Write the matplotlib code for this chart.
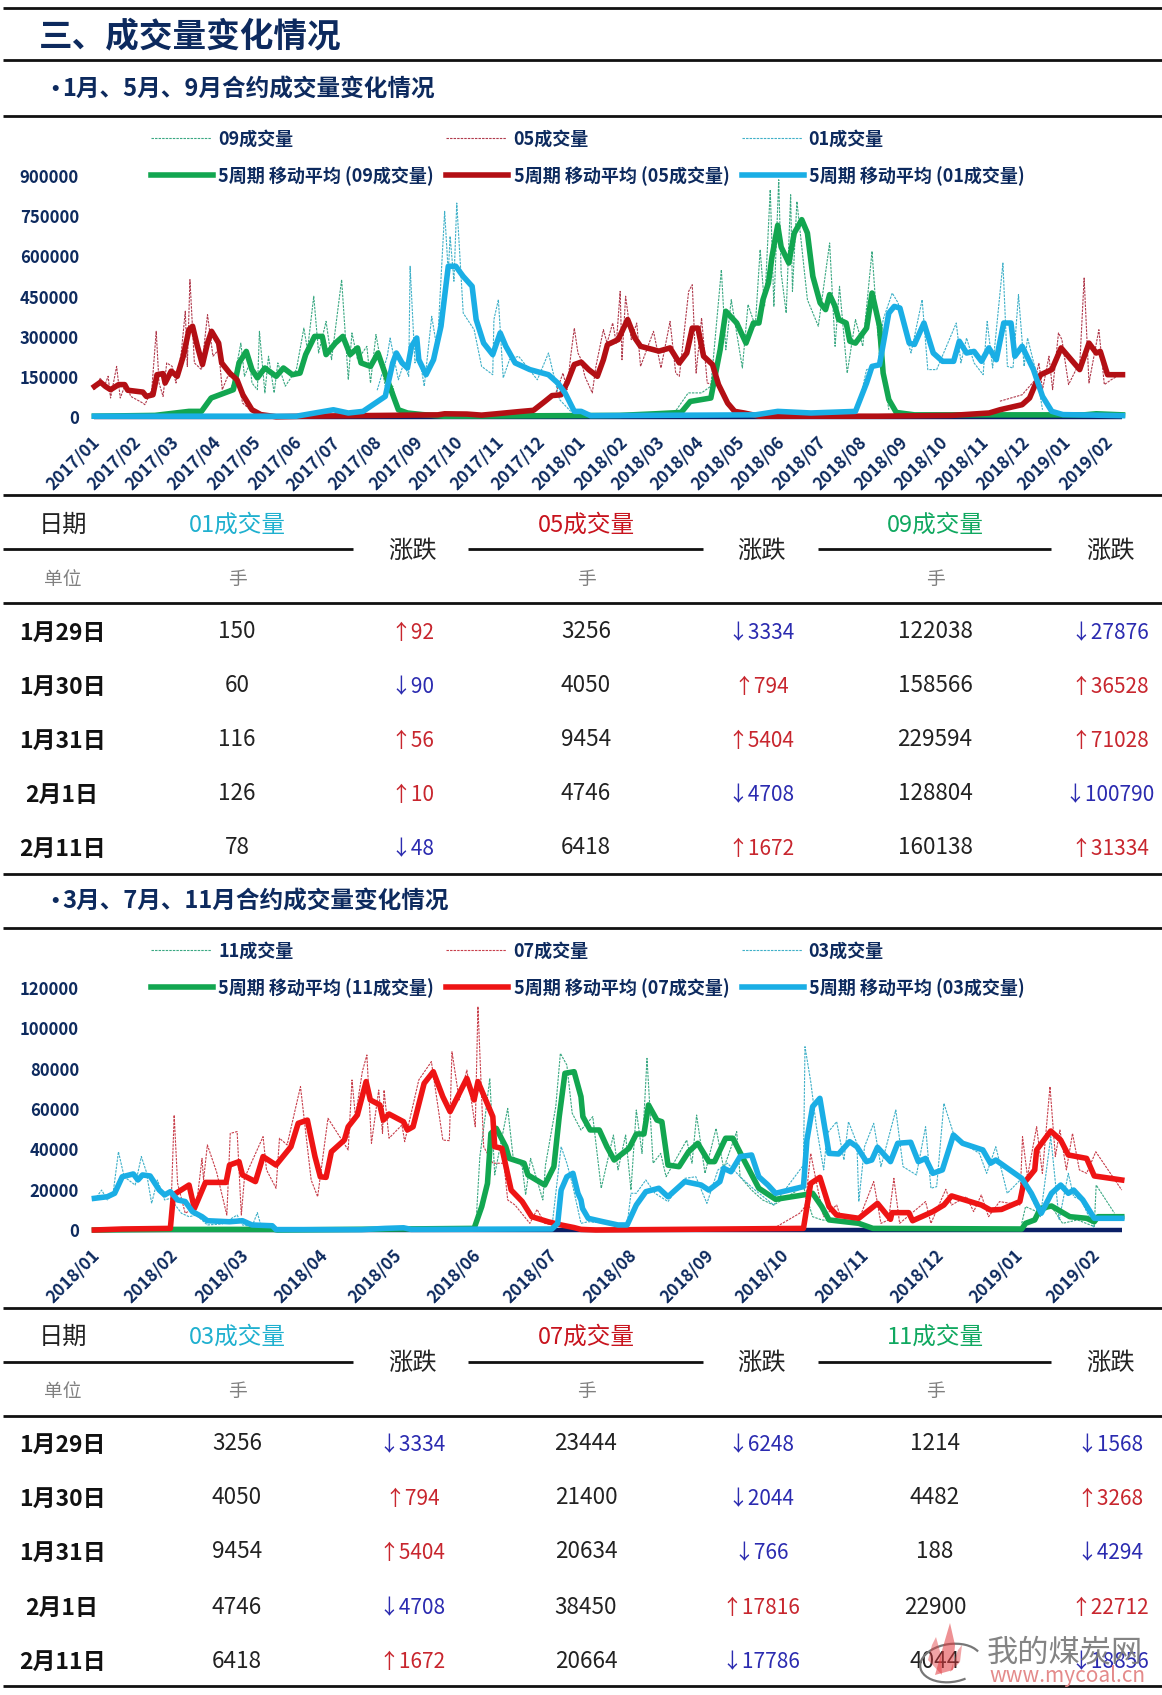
import numpy as np
import matplotlib
matplotlib.use("Agg")
import matplotlib.pyplot as plt
from matplotlib.patches import Arc, Polygon
from matplotlib.transforms import ScaledTranslation

plt.rcParams['font.family'] = ['Noto Sans CJK SC', 'DejaVu Sans']
W, H = 1162, 1695

# ---------- data: (trading-day index, volume) ----------
months_a = ['2017/%02d' % m for m in range(1, 13)] + ['2018/%02d' % m for m in range(1, 13)] + ['2019/01', '2019/02']
ticks_a = [0, 20.2, 39, 59.6, 79.4, 100, 118.7, 139.4, 159.6, 179.8, 200, 220.2, 240.4, 261, 279.4, 298.7, 319, 339, 359.3, 379.4, 399.6, 419.8, 440, 460.2, 480.4, 501.5]
months_b = ['2018/%02d' % m for m in range(1, 13)] + ['2019/01', '2019/02']
ticks_b = [0, 20.4, 39, 59.7, 79, 99.7, 119.7, 140.6, 160.8, 180.4, 201.3, 221, 241.7, 262]
yticks_a = [0, 150000, 300000, 450000, 600000, 750000, 900000]
yticks_b = [0, 20000, 40000, 60000, 80000, 100000, 120000]

# chart A, thousands of lots
ma05 = [(0,114),(3,130),(5.5,114),(8,102),(12,121),(15,121),(16.5,100),(24,93),(25.7,77),(29,83),(31,158),(34,162),(35,127),(38,171),(41,152),(44,227),(46.8,326),(48.6,339),(51,264),(53.5,196),(56,276),(58,320),(61.5,276),(63,202),(67,164),(70.6,139),(73.5,83),(78,27),(82.4,9),(90,1),(104,3),(170,8),(173.4,12),(184.4,11),(191.7,7),(199,12),(210,20),(217.4,25),(223,58),(226.6,80),(231,83),(234,127),(237.6,196),(241,205),(244.7,177),(249,152),(252,214),(254,270),(259.3,289),(264,364),(267.6,295),(270.4,264),(279.5,246),(285,258),(289.6,202),(293.3,239),(296,332),(298.8,332),(301.6,227),(306,196),(309,121),(313.5,52),(317,21),(321.7,15),(329,3),(388,3),(424.5,6),(443,15),(448.3,27),(459.3,46),(463,71),(465.8,121),(468.5,158),(474,177),(478.6,258),(487.8,177),(492.4,276),(496,239),(498,245),(501.6,158),(509,158)]
raw05 = [(0,102),(3,146),(4.6,108),(6.8,152),(8,71),(11,189),(12.8,71),(15.6,127),(18,77),(24,52),(25,46),(28.4,102),(30.6,320),(32,127),(34,77),(35.8,202),(38.5,189),(40.4,127),(43,239),(45,395),(46,189),(47.3,513),(49.5,202),(53,177),(56,382),(58.7,227),(61.5,251),(63.3,102),(66,152),(70.6,152),(73.4,52),(78,21),(82.5,9)]
raw05b = [(228,80),(232,164),(234,102),(235.8,227),(237.6,332),(239.4,239),(241,214),(242.8,152),(246.5,90),(248.3,189),(252,326),(253.8,276),(256.6,351),(258.4,276),(260.3,469),(261.2,214),(263,451),(265.8,289),(268.5,351),(270.4,189),(276.8,320),(280.5,183),(285,357),(287.8,164),(289.6,152),(294.2,469),(296,494),(297.9,164),(300.6,370),(303.4,127),(308.9,115),(313.5,40),(321.7,15)]
raw05c = [(448.3,59),(459.3,83),(465.8,139),(467.6,202),(469.4,102),(472.6,227),(474.4,102),(477.3,314),(479,289),(482.3,121),(486,177),(487.8,189),(490,519),(492.4,127),(497.3,326),(500,121),(503.4,139),(509,164)]
ma09 = [(0,3),(30,6),(46.8,21),(53,21),(57.8,71),(68.8,102),(71.6,202),(75.2,245),(78,177),(80.7,146),(84.4,183),(90,152),(93.6,183),(98,158),(101.8,164),(104.6,233),(109,301),(112.8,301),(114.7,233),(119.3,276),(123,301),(126.6,233),(130.3,258),(132,202),(136.7,189),(140.4,239),(145,139),(150.5,27),(155,15),(162.4,9),(173,3),(260,6),(277.7,12),(290.5,17),(295,58),(305.2,71),(309.8,251),(312.6,395),(318,351),(322.6,276),(326.3,351),(329,351),(331,438),(333.7,500),(335.5,600),(338.3,716),(340,635),(343.8,575),(346.5,687),(350.2,737),(353,687),(355.7,525),(359.3,426),(362,401),(364,457),(366.7,413),(368.5,364),(372.2,351),(374,283),(376.8,276),(382.3,332),(385,463),(388.7,339),(390.5,164),(393.3,65),(397,17),(406,8),(490,8),(496,12),(509,8)]
raw09 = [(66,90),(68.8,127),(72.5,276),(74.3,152),(77,202),(78,127),(80.7,102),(81.7,320),(84.4,90),(86.2,227),(89,90),(90.8,202),(94.5,115),(100,177),(103.7,332),(105.5,251),(108.6,451),(111,239),(114.7,357),(117.4,214),(122.4,513),(125.7,139),(127.5,314),(130.3,214),(134.9,264),(136.7,127),(139.4,308),(144,115),(147.7,115),(150.5,30)]
raw09b = [(288,25),(294,90),(300.6,90),(305.2,115),(310.4,550),(312.6,251),(315.3,438),(320.8,183),(323.6,420),(327.2,339),(329.6,625),(331.8,413),(334.6,849),(336.4,413),(338.8,886),(340,538),(342.5,388),(344.7,830),(345.6,469),(347.8,805),(353,438),(358.4,339),(364,650),(366.7,264),(368.9,488),(372.7,164),(376.8,364),(380.4,264),(385,619),(387.8,314),(393.3,27)]
ma01 = [(0,3),(100,3),(118.3,27),(125.7,15),(133,21),(144,77),(147.7,202),(149.5,239),(152.3,202),(155,183),(157,264),(159.6,295),(160.6,214),(164.2,158),(167.9,214),(171.6,339),(175.2,563),(178.9,563),(182.6,525),(187,488),(189,364),(192.7,276),(197.2,233),(200.9,314),(203.7,264),(208.3,202),(215.6,177),(224.8,158),(229.4,127),(233,90),(237.6,21),(241,21),(245.6,5),(327.2,8),(338.3,21),(354.8,15),(376.8,21),(382.3,127),(385,189),(388.7,195),(393.3,388),(396,413),(398.8,407),(403.4,276),(406,271),(410.7,351),(415.3,239),(419.9,208),(425.4,208),(428.2,283),(431.8,239),(435.5,245),(439.2,208),(442.8,258),(446.5,214),(450.2,351),(453.8,351),(455.7,227),(459.3,264),(464.9,177),(469.4,77),(474,21),(479.5,9),(509,5)]
raw01 = [(140,100),(145,227),(146.4,295),(150.5,139),(153.2,202),(155.6,152),(156.3,563),(158.7,202),(160.6,239),(163.3,115),(167,376),(169.7,251),(173.4,768),(175.2,538),(176.1,675),(178,507),(179.4,799),(182.6,388),(188,326),(191.7,189),(197.2,158),(197.8,364),(200,438),(202.4,146),(205.5,214),(210,227),(219.3,139),(224.8,239),(230.3,65),(235.8,21)]
raw01b = [(378,30),(382.3,177),(387.8,189),(390.5,364),(395,463),(397.9,426),(400.6,339),(404.3,239),(409.8,438),(412.6,177),(417,177),(426.7,351),(429,202),(431.8,295),(435.5,202),(440,158),(442,357),(444.7,183),(449.8,575),(452,189),(454.8,183),(457.5,457),(460.3,189),(462,295),(466.7,152),(469.4,27)]

# chart B, lots
ma03 = [(0,15700),(3.4,16500),(5.3,18200),(7.3,26400),(10.2,27800),(11.4,24800),(12.6,27300),(14.6,26800),(17,19800),(18.4,17400),(19.9,19000),(21.8,14900),(23.8,14100),(25.7,9100),(28.2,6600),(29.6,4600),(35.4,4100),(38.8,4600),(41.3,2500),(46.6,2100),(47.6,200),(70,200),(76.2,800),(81,1100),(83,300),(119.9,500),(121.4,3300),(122.3,19800),(123.8,26400),(125.4,28100),(126.7,18200),(127.5,14900),(127.9,10700),(129.4,5800),(133.3,4100),(137.2,2500),(139.6,2500),(142,12400),(144.5,19000),(147.9,20700),(150.3,16500),(154.7,24000),(159,22300),(161,19800),(163.9,24000),(164.9,30600),(166.8,28900),(169.2,36400),(172.2,37200),(174.1,26400),(176.5,22300),(178.5,18200),(185.8,21500),(186.7,44600),(188.2,61200),(190.1,65300),(192.5,38000),(195,37700),(197.9,43800),(199.8,41300),(202.3,33900),(203.7,34700),(205.2,41000),(208.6,33900),(210.5,43000),(213.9,43500),(215.9,33900),(217.8,35500),(219.7,28100),(222.2,29800),(225.1,47100),(227.5,43000),(232.8,39700),(234.8,33100),(236.2,34700),(243,25600),(245.5,18200),(248.1,8300),(250.8,18200),(253.2,22300),(255.2,18200),(256.6,19800),(259,14900),(262,5800),(269.2,5800)]
raw03 = [(0,14900),(1.9,19800),(3.4,14900),(4.9,18200),(6.3,38800),(7.8,26400),(10.7,22300),(12.3,36400),(13.6,28900),(15,13200),(16.5,24800),(18.4,14900),(19.9,15700),(22.8,8300),(24.8,6600),(26.7,7400),(29.6,2500),(33.5,3000),(37.4,7400),(38.8,2500),(41.3,1700),(42.7,8600),(43.7,1700),(47,1700)]
raw03b = [(120,3300),(122.3,41300),(123.8,33100),(125.2,23100),(127.5,3300),(129.4,4100),(139.6,2500),(140.6,18200),(142,18200),(144.5,24800),(146.9,18200),(150.3,14100),(154.7,25600),(157.6,26400),(160.5,13200),(163.4,29800),(165.9,33100),(169.2,26400),(173.1,19800),(178,12400),(185.8,32200),(186.2,90900),(187.7,73600),(189.2,51200),(191.1,29800),(192,47900),(194.5,53700),(196.4,34700),(197.6,53700),(199.8,43000),(200.3,14100),(201.8,41300),(204.2,52900),(206.1,31400),(210,59500),(211.9,31400),(215.4,27300),(217.8,51200),(219.2,20700),(220.7,21500),(222.6,62800),(225.5,45500),(231.9,38000),(233.8,28100),(236.2,41300),(239.2,18200),(243,25600),(247.9,6600),(250.6,46300),(252.8,5000),(255.2,28100),(256.6,16500),(258.6,14900),(262,800)]
ma07 = [(0,0),(7.3,500),(19.9,800),(20.7,17400),(24.8,22300),(26.2,10700),(29.1,23600),(34.5,23600),(35.4,32200),(37.9,33900),(38.8,27300),(42.2,24000),(44.2,36400),(47.6,32200),(51.5,41300),(53.4,52900),(55.8,54500),(57.8,36400),(59.2,26400),(60.7,26100),(62.1,38800),(65.5,44600),(66.5,51200),(68.9,57000),(71.2,73600),(72.3,64500),(74.8,62000),(75.7,54500),(77.2,57500),(81,53700),(82,49600),(83.5,51200),(86.4,72700),(88.8,78500),(91.3,66100),(93.2,58700),(97.6,75200),(99.5,64500),(100.5,73600),(104.4,56200),(104.9,41300),(106.8,40500),(109.2,19800),(112.1,14100),(114.6,6600),(118.9,4100),(122.3,2500),(125.7,1200),(127.5,300),(131.4,0),(185.8,800),(187.7,23100),(190.1,26100),(192.5,11600),(194.5,7400),(200.3,5800),(205.2,13200),(208.6,5300),(209,8600),(213.4,8600),(214.4,4600),(219.7,9100),(222.6,12400),(224.6,16900),(232.4,12400),(234.8,9900),(237.7,10200),(242.5,14100),(243.5,23100),(246.4,29800),(246.9,39700),(250.6,49100),(253.2,44600),(255.2,37200),(260,35500),(262,26800),(269.2,24800)]
raw07 = [(19.9,800),(20.9,57000),(21.8,23100),(23.8,8300),(26.7,11600),(28.2,35500),(28.6,24800),(29.6,42200),(32,28900),(34.7,7400),(35.6,47900),(37.4,48800),(38.5,7400),(39.3,25600),(44.2,46300),(45.1,29800),(47.6,20700),(48.5,45500),(50.5,42200),(54,71100),(56.8,24800),(58.5,16500),(61.2,55400),(66.5,39700),(67.5,74400),(68.4,56200),(70.2,78500),(71.4,86800),(72.6,43000),(74.5,69400),(75.5,47900),(75.9,69400),(77.2,45500),(80.6,52100),(81.3,43800),(85,74400),(88.3,83500),(91.3,44600),(93,44300),(93.7,88400),(95.6,64500),(97.6,79300),(99.8,51200),(100.5,110800),(102,41300),(104.4,33100),(107.3,33100),(108.3,14900),(110.2,12400),(114.1,3300),(116,10200),(118,3300),(122.3,1700)]
raw07b = [(178,800),(184.8,8300),(186.2,11600),(187.7,38000),(189.6,19800),(191.1,6600),(194.5,12400),(195.5,6600),(200.3,5000),(204.2,24000),(206.1,3300),(208.1,5000),(209.5,25600),(211,3300),(217.8,14100),(219.2,3300),(223.1,20200),(224.6,12400),(228.5,16500),(230.4,9100),(232.4,17400),(234.3,6600),(237.2,14100),(242.5,12400),(243.2,46300),(244.5,26400),(246.9,51200),(248.4,28100),(250.4,71100),(251.8,36400),(253,49600),(254.7,29800),(256.3,47900),(258.1,29800),(260,28100),(262.4,38800),(269.2,19800)]
ma11 = [(0,0),(20,300),(47,300),(48,0),(99.5,800),(101.5,11600),(103,23100),(103.9,47900),(105.3,50400),(107.8,41300),(108.7,35500),(112.6,33100),(113.6,27300),(118,22300),(120.4,31400),(121.8,56200),(123.3,77700),(125.7,78500),(127.5,66100),(128,56200),(129.9,49600),(132.3,49600),(134.3,41300),(136.2,34700),(140.1,40500),(142,47600),(144,47600),(145.2,62000),(147.4,54500),(148.7,53700),(150.3,32200),(153.2,31400),(155.7,38800),(158.1,43000),(161,33900),(162.5,33900),(165.4,45500),(167.3,45500),(170.2,34700),(174.1,20700),(178.5,15200),(185.8,17400),(188.2,18200),(190.6,11600),(192.5,5000),(200.3,3300),(204,800),(243,500),(244,3300),(246.4,5000),(247.9,10700),(250.8,11900),(255.6,6600),(260,5800),(262,4100),(263,6600),(269.2,6600)]
raw11 = [(100,3300),(101,36400),(102.4,56200),(103.6,75200),(104.9,27300),(105.8,36400),(108.3,60300),(109.7,36400),(112.1,31400),(113,17400),(114.3,35500),(117.5,14900),(118.2,32200),(120.9,61200),(122.1,87600),(123.8,81800),(125.2,57900),(127.5,49600),(130.6,56200),(132.8,20700),(136,47100),(137.2,29800),(139.2,47100),(140.6,19800),(142,59500),(143.5,38000),(144.8,85100),(146.4,33100),(148.4,38000),(149.8,26400),(155.2,44600),(156.6,33100),(157.8,57000),(160,28100),(162.9,50400),(164.9,30600),(168.3,48800),(169.2,26400),(172.2,19800),(175.1,14900),(178,12400),(185.8,21500),(188.2,6600),(190.6,5000),(200.3,3300)]
raw11b = [(243,3300),(244,11600),(247.9,8300),(250.8,11600),(253.7,3300),(257.6,5000),(262,1700),(262.5,22300),(267.3,8300)]

row_labels = ['1月29日', '1月30日', '1月31日', '2月1日', '2月11日']
t1_c01 = [150, 60, 116, 126, 78]
t1_d01 = [92, -90, 56, 10, -48]
t1_c05 = [3256, 4050, 9454, 4746, 6418]
t1_d05 = [-3334, 794, 5404, -4708, 1672]
t1_c09 = [122038, 158566, 229594, 128804, 160138]
t1_d09 = [-27876, 36528, 71028, -100790, 31334]
t2_c03 = [3256, 4050, 9454, 4746, 6418]
t2_d03 = [-3334, 794, 5404, -4708, 1672]
t2_c07 = [23444, 21400, 20634, 38450, 20664]
t2_d07 = [-6248, -2044, -766, 17816, -17786]
t2_c11 = [1214, 4482, 188, 22900, 4044]
t2_d11 = [-1568, 3268, -4294, 22712, -18856]

# ---------- styles ----------
NAVY = '#0d2a5e'
GREEN, DRED, SKY, RED = '#12a650', '#b30f14', '#1aaee5', '#ee1414'
RGREEN, RDRED, RSKY, RRED = '#3aa882', '#b03a4c', '#3fb0c8', '#c8404c'
UP, DOWN = '#c8262e', '#2b2bb0'
MA_LW = 4.0

fig = plt.figure(figsize=(W / 100, H / 100), dpi=100, facecolor='white')
page = fig.add_axes([0, 0, 1, 1])
page.set_xlim(0, W)
page.set_ylim(H, 0)
page.axis('off')


def xy(p, scale=1):
    a = np.array(p, dtype=float)
    return a[:, 0], a[:, 1] * scale


def chart(top, bottom, yticks, ticks, months, xmax, raws, mas, scale):
    ax = fig.add_axes([94.4 / W, 1 - bottom / H, (1122.5 - 94.4) / W, (bottom - top) / H])
    ax.set_xlim(0, xmax)
    ax.set_ylim(0, yticks[-1])
    ax.patch.set_alpha(0)
    for s in ax.spines.values():
        s.set_visible(False)
    for seg, c in raws:
        x, y = xy(seg, scale)
        ax.plot(x, y, color=c, lw=0.8, ls=(0, (2.2, 1)), clip_on=False, zorder=2)
    ax.plot([0, xmax], [0, 0], color='#0a1f66', lw=3.2, clip_on=False, zorder=2.5, solid_capstyle='butt')
    for i, (seg, c) in enumerate(mas):
        x, y = xy(seg, scale)
        ax.plot(x, y, color=c, lw=MA_LW, clip_on=False, zorder=3 + i, solid_joinstyle='round')
    ax.set_yticks(yticks)
    ax.set_yticklabels([str(v) for v in yticks], fontsize=12, fontweight='bold', color=NAVY)
    ax.set_xticks(ticks)
    ax.set_xticklabels(months, rotation=45, ha='right', va='top', rotation_mode='anchor',
                       fontsize=12.4, fontweight='bold', color=NAVY)
    ax.tick_params(length=0, axis='y', pad=11)
    ax.tick_params(length=0, axis='x', pad=12)
    shift = ScaledTranslation(-3 / 100, 0, fig.dpi_scale_trans)
    for lab in ax.get_xticklabels():
        lab.set_transform(lab.get_transform() + shift)
    return ax


chart(176, 417, yticks_a, ticks_a, months_a, 509,
      [(raw09, RGREEN), (raw09b, RGREEN), (raw05, RDRED), (raw05b, RDRED), (raw05c, RDRED), (raw01, RSKY), (raw01b, RSKY)],
      [(ma09, GREEN), (ma05, DRED), (ma01, SKY)], 1000)
chart(988, 1230, yticks_b, ticks_b, months_b, 269.4,
      [(raw11, RGREEN), (raw11b, RGREEN), (raw07, RRED), (raw07b, RRED), (raw03, RSKY), (raw03b, RSKY)],
      [(ma11, GREEN), (ma07, RED), (ma03, SKY)], 1)


def rule(y, x0=3, x1=W, lw=2.0, c='#111111'):
    page.plot([x0, x1], [y, y], color=c, lw=lw, solid_capstyle='butt')


for y in [7.6, 59.5, 116, 495, 603, 873.5, 927.5, 1307.5, 1416, 1686]:
    rule(y)
for y in [549, 1362]:
    for a, b in [(3, 353), (468, 703), (818, 1051)]:
        rule(y, a, b)

page.text(39, 37, '三、成交量变化情况', fontsize=24.2, fontweight='bold', color=NAVY, va='center')


def t(x, y, s, **k):
    k.setdefault('ha', 'center')
    k.setdefault('va', 'center')
    page.text(x, y, s, **k)


for y, s in [(90, '1月、5月、9月合约成交量变化情况'), (902, '3月、7月、11月合约成交量变化情况')]:
    page.text(43, y, '•', fontsize=17, fontweight='bold', color=NAVY, va='center')
    page.text(62, y, s, fontsize=17, fontweight='bold', color=NAVY, va='center')


def legend(y1, y2, names, rc, mc):
    for (lx, tx), n, r, m in zip([(151, 218), (446, 513.5), (742, 808.6)], names, rc, mc):
        page.plot([lx, lx + 60], [y1, y1], color=r, lw=0.8, ls=(0, (2.2, 1)))
        page.plot([lx, lx + 62], [y2, y2], color=m, lw=MA_LW)
        page.text(tx, y1 + 1, n + '成交量', fontsize=13, fontweight='bold', color=NAVY, va='center')
        page.text(tx, y2 + 1, '5周期 移动平均 (' + n + '成交量)', fontsize=13, fontweight='bold', color=NAVY, va='center')


legend(138, 175, ['09', '05', '01'], [RGREEN, RDRED, RSKY], [GREEN, DRED, SKY])
legend(950, 987, ['11', '07', '03'], [RGREEN, RRED, RSKY], [GREEN, RED, SKY])

CX = [237, 586, 935]
DX = [412, 761, 1110]


def delta(x, y, v):
    arrow = '↑' if v > 0 else '↓'
    t(x, y + 1, arrow + str(abs(v)), fontsize=15, color=UP if v > 0 else DOWN)


def table(y0, rows_y, names, colors, cols, dels):
    t(63, y0 + 2, '日期', fontsize=17.5, color='#222222')
    for x, n, c in zip(CX, names, colors):
        t(x, y0 + 2, n + '成交量', fontsize=17, color=c)
        t(x, y0 + 57, '手', fontsize=13.5, color='#808080')
    for x in DX:
        t(x, y0 + 28, '涨跌', fontsize=17.5, color='#222222')
    t(63, y0 + 57, '单位', fontsize=13.5, color='#808080')
    for i, y in enumerate(rows_y):
        t(62, y + 3, row_labels[i], fontsize=16.5, fontweight='bold', color='#111111')
        for x, c in zip(CX, cols):
            t(x, y + 2, str(c[i]), fontsize=16.2, color='#222222')
        for x, d in zip(DX, dels):
            delta(x, y + 2, d[i])


table(523, [630, 684, 738, 792, 846], ['01', '05', '09'], ['#1fb0cf', '#c8141e', '#10a860'],
      [t1_c01, t1_c05, t1_c09], [t1_d01, t1_d05, t1_d09])
table(1335, [1442, 1496, 1550, 1605, 1659], ['03', '07', '11'], ['#1fb0cf', '#c8141e', '#10a860'],
      [t2_c03, t2_c07, t2_c11], [t2_d03, t2_d07, t2_d11])

# site watermark
page.add_patch(Arc((951, 1663), 62, 38, angle=-8, theta1=55, theta2=345, color='#777777', lw=1.6, zorder=5))
for pts, a in [([(935, 1675), (945, 1640), (950, 1623), (955, 1645), (953, 1670)], .55),
               ([(928, 1660), (932, 1645), (936, 1637), (941, 1655), (942, 1675)], .45),
               ([(950, 1672), (958, 1650), (962, 1645), (960, 1662)], .45)]:
    page.add_patch(Polygon(pts, closed=True, color='#e0383c', alpha=a, lw=0, zorder=6))
page.text(987, 1652, '我的煤炭网', fontsize=22.5, color='#7d7d7d', alpha=.95, va='center', zorder=6)
page.text(989, 1676, 'www.mycoal.cn', fontsize=15, color='#e48a8a', va='center', zorder=6)

fig.savefig('out.png', dpi=100)
